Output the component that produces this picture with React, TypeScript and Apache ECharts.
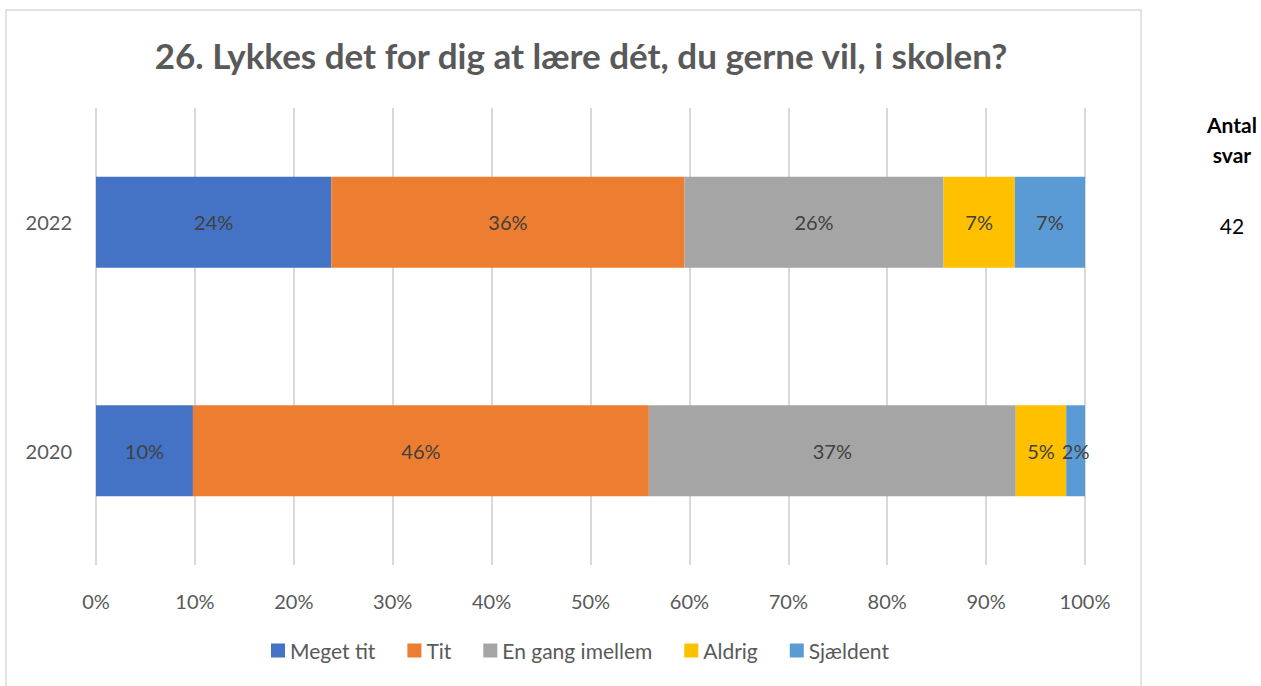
import React, { useEffect, useRef } from "react";
import * as echarts from "echarts";

const years = ["2022", "2020"];
const seriesNames = ["Meget tit", "Tit", "En gang imellem", "Aldrig", "Sjældent"];
const megetTit = [23.8, 9.8];
const tit = [35.7, 46.1];
const enGang = [26.2, 37.1];
const aldrig = [7.2, 5.1];
const sjaeldent = [7.1, 1.9];
const colors = ["#4472C4", "#ED7D31", "#A5A5A5", "#FFC000", "#5B9BD5"];
const antalSvar = "42";

const FONT = "Lato, 'Open Sans', sans-serif";

export default function App() {
  const ref = useRef<HTMLDivElement>(null);
  useEffect(() => {
    if (!ref.current) return;
    const chart = echarts.init(ref.current, undefined, { renderer: "svg" });
    const data = [megetTit, tit, enGang, aldrig, sjaeldent];
    chart.setOption({
      animation: false,
      textStyle: { fontFamily: FONT },
      title: {
        text: "26. Lykkes det for dig at lære dét, du gerne vil, i skolen?",
        left: 576,
        textAlign: "center",
        top: 32,
        textStyle: { fontFamily: FONT, fontSize: 35, fontWeight: "bold", color: "#595959" },
      },
      grid: { left: 96, right: 176, top: 108, bottom: 121, containLabel: false },
      xAxis: {
        type: "value",
        min: 0,
        max: 100,
        interval: 10,
        axisLabel: { formatter: "{value}%", color: "#595959", fontSize: 20, margin: 26, fontFamily: FONT },
        splitLine: { lineStyle: { color: "#d9d9d9", width: 2 } },
        axisLine: { show: false },
        axisTick: { show: false },
      },
      yAxis: {
        type: "category",
        data: years,
        inverse: true,
        axisLabel: { color: "#595959", fontSize: 20, margin: 24, fontFamily: FONT },
        axisLine: { show: false },
        axisTick: { show: false },
      },
      legend: {
        data: seriesNames,
        bottom: 20,
        left: 266,
        itemWidth: 14,
        itemHeight: 14,
        itemGap: 32,
        icon: "rect",
        textStyle: { color: "#595959", fontSize: 21, fontFamily: FONT },
      },
      series: seriesNames.map((name, i) => ({
        name,
        type: "bar",
        stack: "total",
        data: data[i],
        barWidth: 91,
        itemStyle: { color: colors[i] },
        label: {
          show: true,
          position: "inside",
          color: "#404040",
          fontSize: 20,
          fontFamily: FONT,
          formatter: (p: any) => Math.round(p.value) + "%",
        },
      })),
      graphic: [
        {
          type: "rect",
          shape: { x: 6, y: 10, width: 1135, height: 700 },
          style: { fill: "none", stroke: "#d9d9d9", lineWidth: 1.5 },
          silent: true,
        },
        {
          type: "text",
          x: 1232,
          y: 109,
          style: {
            text: "Antal\nsvar",
            textAlign: "center",
            fontFamily: FONT,
            fontWeight: "bold",
            fontSize: 21,
            lineHeight: 30,
            fill: "#000",
          },
        },
        {
          type: "text",
          x: 1232,
          y: 215,
          style: {
            text: antalSvar,
            textAlign: "center",
            fontFamily: FONT,
            fontSize: 21,
            fill: "#000",
          },
        },
      ],
    });
    return () => chart.dispose();
  }, []);
  return (
    <div
      ref={ref}
      style={{ position: "absolute", left: 0, top: 0, width: 1261, height: 686, background: "#fff" }}
    />
  );
}
